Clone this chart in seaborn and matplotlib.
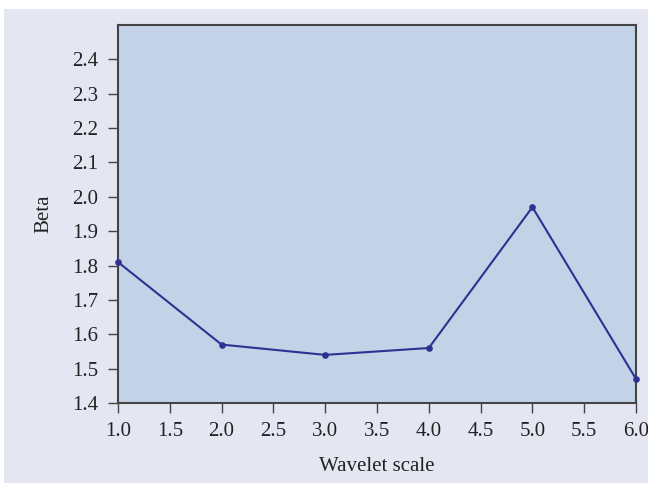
import matplotlib
matplotlib.use("Agg")
import matplotlib.pyplot as plt
from matplotlib.patches import Rectangle
import seaborn as sns
import pandas as pd

# values
scales = [1.0, 2.0, 3.0, 4.0, 5.0, 6.0]
beta = [1.81, 1.57, 1.54, 1.56, 1.97, 1.47]
x_ticks = [1.0, 1.5, 2.0, 2.5, 3.0, 3.5, 4.0, 4.5, 5.0, 5.5, 6.0]
y_ticks = [1.4, 1.5, 1.6, 1.7, 1.8, 1.9, 2.0, 2.1, 2.2, 2.3, 2.4]

sns.set_style("ticks")
plt.rcParams["font.family"] = ["Liberation Serif", "DejaVu Serif"]

df = pd.DataFrame({"scale": scales, "beta": beta})

W, H = 648, 483
fig = plt.figure(figsize=(W / 100, H / 100), dpi=100, facecolor="white")
# lavender panel with a thin white margin at top/left, like the reference
fig.patches.append(Rectangle((4 / W, 0), 1 - 4 / W, (H - 9) / H,
                             transform=fig.transFigure, facecolor="#e4e6f2",
                             edgecolor="none", zorder=-10))
ax = fig.add_axes([118 / W, 1 - 403 / H, (636 - 118) / W, (403 - 25) / H])
ax.set_facecolor("#c3d2e6")

sns.lineplot(data=df, x="scale", y="beta", ax=ax, color="#2e3192",
             marker="o", markersize=4.8, markeredgewidth=0, linewidth=1.5,
             clip_on=False, zorder=5)

ax.set_xlim(1.0, 6.0)
ax.set_ylim(1.4, 2.5)
ax.set_xticks(x_ticks)
ax.set_xticklabels([f"{v:.1f}" for v in x_ticks])
ax.set_yticks(y_ticks)
ax.set_yticklabels([f"{v:.1f}" for v in y_ticks])
ax.tick_params(direction="out", length=7, width=1, color="#444444",
               labelsize=15, labelcolor="#222222", pad=7)
for s in ax.spines.values():
    s.set_color("#444444")
    s.set_linewidth(1.5)

ax.set_xlabel("Wavelet scale", fontsize=15, color="#222222", labelpad=11)
ax.set_ylabel("Beta", fontsize=15, color="#222222", labelpad=14)

fig.savefig("out.png", dpi=100, facecolor=fig.get_facecolor())
